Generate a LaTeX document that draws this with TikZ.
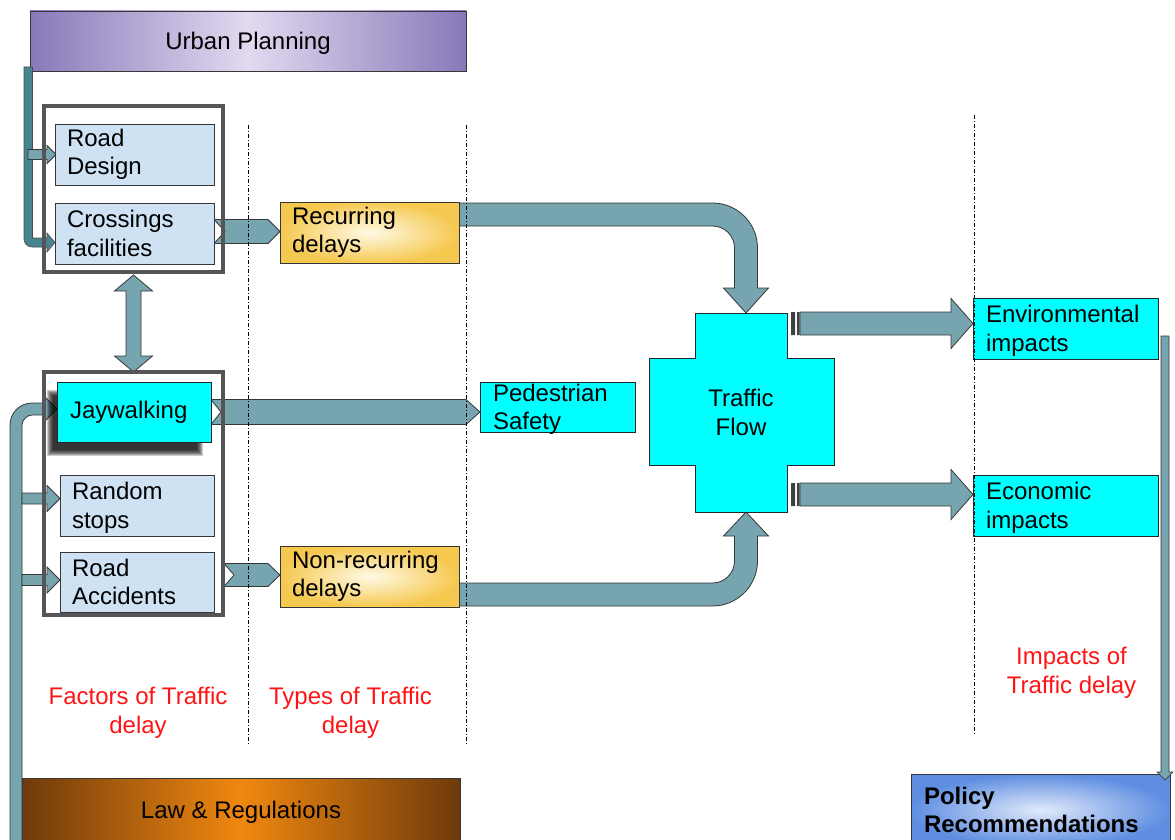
\documentclass[tikz,border=0pt]{standalone}
\usepackage{fontspec}
\setmainfont{Liberation Sans}
\usetikzlibrary{calc,shadows}
\pgfdeclarelayer{back}
\pgfdeclarelayer{arr}
\pgfdeclarelayer{shade}
\pgfsetlayers{back,arr,shade,main}
\definecolor{arrowfill}{RGB}{118,165,175}
\definecolor{arrowdark}{RGB}{72,132,144}
\definecolor{edge}{RGB}{55,55,55}
\definecolor{lblue}{RGB}{207,226,243}
\definecolor{cyanbox}{RGB}{0,255,255}
\definecolor{upedge}{RGB}{137,120,185}
\definecolor{upmid}{RGB}{225,218,240}
\definecolor{goldedge}{RGB}{245,200,80}
\definecolor{goldmid}{RGB}{255,250,230}
\definecolor{lawedge}{RGB}{110,58,10}
\definecolor{lawmid}{RGB}{240,136,16}
\definecolor{poledge}{RGB}{95,142,225}
\definecolor{polmid}{RGB}{225,234,250}
\definecolor{grpedge}{RGB}{85,85,85}
\definecolor{redtext}{RGB}{255,20,20}
\newcommand\boxfont{\fontsize{24}{28.5}\selectfont}
\begin{document}
\begin{tikzpicture}[x=1pt,y=-1pt,
  every node/.style={inner sep=0pt, outer sep=0pt},
  boxbase/.style={draw=edge, line width=0.8pt, font=\boxfont, text=black},
  lbbox/.style={boxbase, fill=lblue, text width=#1, align=left, inner xsep=12pt, minimum height=61pt},
  cybox/.style={boxbase, draw=black!85, fill=cyanbox, text width=#1, align=left, inner xsep=13pt, minimum height=61pt},
  goldbox/.style={boxbase, inner color=goldmid, outer color=goldedge, text width=155pt, align=left, inner xsep=12pt, minimum height=61pt},
  grpbox/.style={fill=white, minimum width=179pt, drop shadow={opacity=0.3, shadow xshift=1.5pt, shadow yshift=-1.5pt}},
  grpline/.style={draw=grpedge, line width=4pt},
  barrow/.style={fill=arrowfill, draw=edge, line width=0.8pt, line join=miter},
  darrow/.style={fill=arrowdark, draw=black!70, line width=0.6pt, line join=miter},
  divline/.style={black, line width=0.8pt, dash pattern=on 4pt off 2pt on 1pt off 2pt},
  redlabel/.style={text=redtext, font=\boxfont, align=center}
]
\useasboundingbox (0,0) rectangle (1175,840);

% ---------- back layer ----------
\begin{pgfonlayer}{back}
\node[grpbox, minimum height=166pt] (grp1) at (133.5,189) {};
\node[grpbox, minimum height=243pt] (grp2) at (133.5,493.5) {};
\node[boxbase, left color=upedge, right color=upedge, middle color=upmid,
      minimum width=436pt, minimum height=60pt, text depth=0pt] (up) at (248,41) {Urban Planning};
\node[boxbase, inner color=polmid, outer color=poledge, text width=233pt, inner xsep=13pt,
      align=left, minimum height=72pt, font=\boxfont\bfseries] (pol) at (1040.5,810) {Policy\\Recommendations};
\end{pgfonlayer}

% ---------- main nodes ----------
\draw[grpline] (grp1.north west) rectangle (grp1.south east);
\draw[grpline] (grp2.north west) rectangle (grp2.south east);

\node[boxbase, left color=lawedge, right color=lawedge, middle color=lawmid,
      minimum width=438pt, minimum height=63pt, text depth=0pt] (law) at (241,809.5) {Law \& Regulations};

\node[lbbox=135pt] (rdz) at (134.5,154.5) {Road\\Design};
\node[lbbox=135pt] (cf) at (134.5,233.5) {Crossings\\facilities};
\node[goldbox] (rec) at (369.5,232.5) {Recurring\\delays};
\node[cybox=128pt, minimum height=60pt] (jw) at (134,412) {Jaywalking};
\node[lbbox=130pt] (rs) at (137,505.5) {Random\\\smash{stops}};
\node[lbbox=130pt, minimum height=60pt] (ra) at (137,582) {Road\\Accidents};
\node[goldbox] (nrec) at (369.5,576.5) {Non-recurring\\delays};
\node[cybox=129pt, minimum height=50pt] (ps) at (557.5,407) {Pedestrian\\\smash{Safety}};

\path[draw=black!85, line width=0.8pt, fill=cyanbox]
  (695,313) -- (787,313) -- (787,358) -- (834,358) -- (834,465) -- (787,465) -- (787,512)
  -- (695,512) -- (695,465) -- (649,465) -- (649,358) -- (695,358) -- cycle;
\node[font=\boxfont, align=center, minimum width=92pt, minimum height=199pt] (tf) at (741,412.5) {Traffic\\Flow};

\node[cybox=159pt] (env) at (1065.5,328.5) {Environmental\\\smash{impacts}};
\node[cybox=159pt] (eco) at (1065.5,505.5) {Economic\\\smash{impacts}};

\node[redlabel] (lf) at (138,713) {Factors of Traffic\\delay};
\node[redlabel] (lt) at (350.5,713) {Types of Traffic\\delay};
\node[redlabel] (li) at (1071.5,673) {Impacts of\\Traffic delay};

% ---------- soft shadow of Jaywalking ----------
\begin{pgfonlayer}{shade}
\foreach \r in {0,...,6} {
  \fill[black, opacity=0.2] let \p1=(jw.north west), \p2=(jw.south east) in
    ({\x1-10pt+\r*1pt},{\y1-8pt-\r*1pt}) rectangle ({\x2-8pt-\r*1pt},{\y2-14pt+\r*1pt});
}
\end{pgfonlayer}

% ---------- arrows ----------
\begin{pgfonlayer}{arr}
% Urban Planning -> Crossings facilities
\path[darrow] let \p1=(up.south west), \p2=(cf.west) in
  ({\x1-6pt},{\y1+4pt}) -- ({\x1+2.5pt},{\y1+4pt}) -- ({\x1+2.5pt},{\y2-4.5pt})
  -- ({\x2-8pt},{\y2-4.5pt}) -- ({\x2-8pt},{\y2+0.5pt}) -- (\x2,{\y2-9pt})
  -- ({\x2-8pt},{\y2-18.5pt}) -- ({\x2-8pt},{\y2-13.5pt}) -- ({\x1+2pt},{\y2-13.5pt})
  .. controls ({\x1-2.4pt},{\y2-13.5pt}) and ({\x1-6pt},{\y2-9.9pt}) .. ({\x1-6pt},{\y2-5.5pt}) -- cycle;
% Urban Planning -> Road Design
\path[barrow] let \p1=(up.south west), \p2=(rdz.west) in
  ({\x1-2pt},{\y2+5pt}) -- ({\x2-8pt},{\y2+5pt}) -- ({\x2-8pt},{\y2+9pt}) -- ({\x2+1pt},\y2)
  -- ({\x2-8pt},{\y2-9pt}) -- ({\x2-8pt},{\y2-5pt}) -- ({\x1-2pt},{\y2-5pt}) -- cycle;
% Crossings -> Recurring
\path[barrow] let \p1=(cf.east), \p2=(rec.west) in
  (\x1,{\y2+13pt}) -- ({\x2-12pt},{\y2+13pt}) -- (\x2,{\y2+1pt}) -- ({\x2-12pt},{\y2-11pt})
  -- (\x1,{\y2-11pt}) -- ({\x1+11pt},{\y2+1pt}) -- cycle;
% group1 <-> group2
\path[barrow] let \p1=(grp1.south), \p2=(grp2.north) in
  (\x1,{\y1-3pt}) -- ({\x1+19pt},{\y1-19pt}) -- ({\x1+7.5pt},{\y1-19pt}) -- ({\x1+7.5pt},{\y2+16pt})
  -- ({\x1+19pt},{\y2+16pt}) -- (\x1,\y2) -- ({\x1-19pt},{\y2+16pt}) -- ({\x1-7.5pt},{\y2+16pt})
  -- ({\x1-7.5pt},{\y1-19pt}) -- ({\x1-19pt},{\y1-19pt}) -- cycle;
% Jaywalking -> Pedestrian Safety
\path[barrow] let \p1=(jw.east), \p2=(ps.west) in
  (\x1,{\y1+12.5pt}) -- ({\x2-14pt},{\y1+12.5pt}) -- (\x2,\y1) -- ({\x2-14pt},{\y1-12.5pt})
  -- (\x1,{\y1-12.5pt}) -- ({\x1+10pt},\y1) -- cycle;
% Road Accidents -> Non-recurring
\path[barrow] let \p1=(grp2.east), \p2=(nrec.west) in
  ({\x1+1pt},{\y2+13pt}) -- ({\x2-12pt},{\y2+13pt}) -- (\x2,{\y2+1.5pt}) -- ({\x2-12pt},{\y2-10pt})
  -- ({\x1+1pt},{\y2-10pt}) -- ({\x1+11pt},{\y2+1.5pt}) -- cycle;
% Law & Regulations -> Jaywalking
\path[barrow] let \p1=(law.north west), \p2=(jw.west) in
  ({\x1-12pt},{\y1-70pt}) -- ({\x1-12pt},{\y2-13pt})
  .. controls ({\x1-12pt},{\y2-0.85pt}) and ({\x1-2.15pt},{\y2+9pt}) .. ({\x1+10pt},{\y2+9pt})
  -- ({\x2-12pt},{\y2+9pt}) -- ({\x2-12pt},{\y2+15pt}) -- (\x2,{\y2+3pt}) -- ({\x2-12pt},{\y2-9pt})
  -- ({\x2-12pt},{\y2-3pt}) -- ({\x1+10pt},{\y2-3pt})
  .. controls ({\x1+4.48pt},{\y2-3pt}) and (\x1,{\y2-8.52pt}) .. (\x1,{\y2-13pt})
  -- (\x1,{\y1-70pt}) -- cycle;
% Law -> Random stops
\path[barrow] let \p1=(law.north west), \p2=(rs.west) in
  (\x1,{\y2+12.5pt}) -- ({\x2-13pt},{\y2+12.5pt}) -- ({\x2-13pt},{\y2+20pt}) -- (\x2,{\y2+7pt})
  -- ({\x2-13pt},{\y2-6pt}) -- ({\x2-13pt},{\y2+1.5pt}) -- (\x1,{\y2+1.5pt}) -- cycle;
% Law -> Road Accidents
\path[barrow] let \p1=(law.north west), \p2=(ra.west) in
  (\x1,{\y2+7.5pt}) -- ({\x2-13pt},{\y2+7.5pt}) -- ({\x2-13pt},{\y2+15pt}) -- (\x2,{\y2+2pt})
  -- ({\x2-13pt},{\y2-11pt}) -- ({\x2-13pt},{\y2-3.5pt}) -- (\x1,{\y2-3.5pt}) -- cycle;
% Recurring -> Traffic Flow
\path[barrow] let \p1=(rec.north east), \p2=(tf.north) in
  (\x1,{\y1-1pt}) -- ({\x2-28.5pt},{\y1-1pt})
  .. controls ({\x2-3.65pt},{\y1-1pt}) and ({\x2+16.5pt},{\y1-21.15pt}) .. ({\x2+16.5pt},{\y1-46pt})
  -- ({\x2+16.5pt},{\y2+25pt}) -- ({\x2+27.5pt},{\y2+25pt}) -- ({\x2+5pt},\y2)
  -- ({\x2-17.5pt},{\y2+25pt}) -- ({\x2-6.5pt},{\y2+25pt}) -- ({\x2-6.5pt},{\y1-46pt})
  .. controls ({\x2-6.5pt},{\y1-33.85pt}) and ({\x2-16.35pt},{\y1-24pt}) .. ({\x2-28.5pt},{\y1-24pt})
  -- (\x1,{\y1-24pt}) -- cycle;
% Non-recurring -> Traffic Flow
\path[barrow] let \p1=(nrec.south east), \p2=(tf.south) in
  (\x1,{\y1+1pt}) -- ({\x2-28.5pt},{\y1+1pt})
  .. controls ({\x2-3.65pt},{\y1+1pt}) and ({\x2+16.5pt},{\y1+21.15pt}) .. ({\x2+16.5pt},{\y1+46pt})
  -- ({\x2+16.5pt},{\y2-24pt}) -- ({\x2+27.5pt},{\y2-24pt}) -- ({\x2+5pt},\y2)
  -- ({\x2-17.5pt},{\y2-24pt}) -- ({\x2-6.5pt},{\y2-24pt}) -- ({\x2-6.5pt},{\y1+46pt})
  .. controls ({\x2-6.5pt},{\y1+33.85pt}) and ({\x2-16.35pt},{\y1+24pt}) .. ({\x2-28.5pt},{\y1+24pt})
  -- (\x1,{\y1+24pt}) -- cycle;
% Traffic Flow -> Environmental impacts
\path[barrow] let \p1=(tf.east), \p2=(env.west) in
  ({\x1+13pt},{\y2+16.5pt}) -- ({\x2-22pt},{\y2+16.5pt}) -- ({\x2-22pt},{\y2+30pt}) -- (\x2,{\y2+5pt})
  -- ({\x2-22pt},{\y2-20pt}) -- ({\x2-22pt},{\y2-6.5pt}) -- ({\x1+13pt},{\y2-6.5pt}) -- cycle;
\path let \p1=(tf.east), \p2=(env.west) in
  [fill=black] ({\x1+4pt},{\y2+16.5pt}) rectangle ({\x1+8pt},{\y2-6.5pt})
  [fill=black!75] ({\x1+10pt},{\y2+16.5pt}) rectangle ({\x1+12.5pt},{\y2-6.5pt});
% Traffic Flow -> Economic impacts
\path[barrow] let \p1=(tf.east), \p2=(eco.west) in
  ({\x1+13pt},{\y2+22.5pt}) -- ({\x2-22pt},{\y2+22.5pt}) -- ({\x2-22pt},{\y2+36pt}) -- (\x2,{\y2+11pt})
  -- ({\x2-22pt},{\y2-14pt}) -- ({\x2-22pt},{\y2-0.5pt}) -- ({\x1+13pt},{\y2-0.5pt}) -- cycle;
\path let \p1=(tf.east), \p2=(eco.west) in
  [fill=black] ({\x1+4pt},{\y2+22.5pt}) rectangle ({\x1+8pt},{\y2-0.5pt})
  [fill=black!75] ({\x1+10pt},{\y2+22.5pt}) rectangle ({\x1+12.5pt},{\y2-0.5pt});
% Environmental impacts -> Policy Recommendations
\path[barrow, line width=0.6pt] let \p1=(env.east), \p2=(pol.north) in
  ({\x1+3pt},{\y1-7.5pt}) -- ({\x1+11pt},{\y1-7.5pt}) -- ({\x1+11pt},{\y2+2pt}) -- ({\x1+15pt},{\y2+2pt})
  -- ({\x1+7pt},{\y2-6pt}) -- ({\x1-1pt},{\y2+2pt}) -- ({\x1+3pt},{\y2+2pt}) -- cycle;
\end{pgfonlayer}

% ---------- dividers ----------
\draw[divline] (248,125) -- (248,745);
\draw[divline] (466,125) -- (466,745);
\draw[divline] (974,115) -- (974,735);
\end{tikzpicture}
\end{document}
